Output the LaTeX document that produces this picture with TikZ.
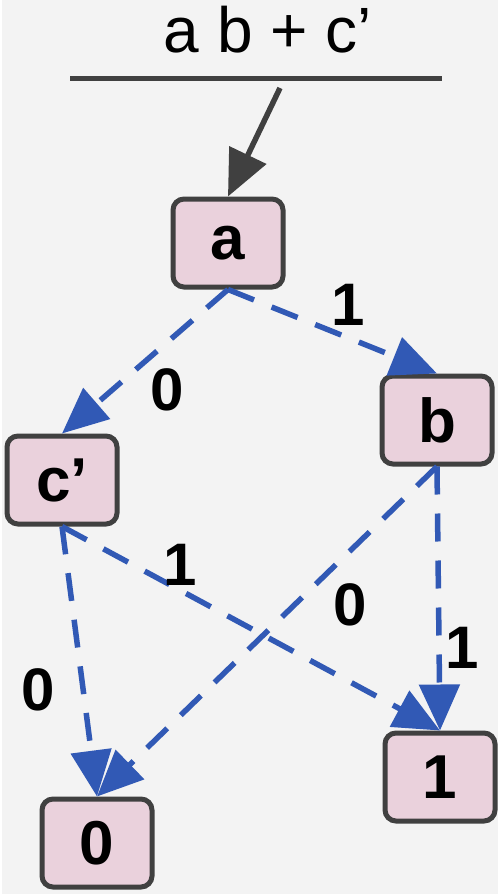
\documentclass[tikz,border=0pt]{standalone}
\usepackage{fontspec}
\setmainfont{Liberation Sans}
\usetikzlibrary{arrows.meta}
\definecolor{bg}{HTML}{F3F3F3}
\definecolor{boxfill}{HTML}{EAD1DC}
\definecolor{boxline}{HTML}{404040}
\definecolor{edgeblue}{HTML}{3159B5}
\tikzset{
  bddnode/.style={draw=boxline, line width=5pt, fill=boxfill, rounded corners=11pt,
    minimum width=110pt, minimum height=88pt, inner sep=0pt,
    font=\fontsize{62}{62}\selectfont\bfseries},
  edgelabel/.style={inner sep=0pt, font=\fontsize{60}{60}\selectfont\bfseries},
  bddedge/.style={draw=edgeblue, line width=5.5pt, dash pattern=on 28pt off 19pt,
    -{Triangle[length=46pt, width=40pt]}},
  rootarrow/.style={draw=boxline, line width=5.5pt, -{Triangle[length=46pt, width=40pt]}}
}
\begin{document}
\begin{tikzpicture}[x=1pt, y=-1pt]
  \fill[white] (0,0) rectangle (500,894);
  \fill[bg] (2,0) rectangle (498,894);
  \useasboundingbox (0,0) rectangle (500,894);

  % title
  \node[inner sep=0pt, anchor=base, font=\fontsize{64}{64}\selectfont] (title) at (268,52) {a b + c’};
  \draw[draw=boxline, line width=5pt] (70,78) -- (442,78);

  % nodes
  \node[bddnode] (a) at (228,243) {a};
  \node[bddnode] (b) at (437,420) {b};
  \node[bddnode] (c) at (62,480) {c’};
  \node[bddnode] (zero) at (97,843) {0};
  \node[bddnode] (one) at (440,777) {1};

  % root arrow
  \coordinate (rootstart) at (280,88);
  \draw[rootarrow] (rootstart) -- (a.north);

  % edges
  \draw[bddedge] (a.south) -- (c.north);
  \draw[bddedge] (a.south) -- (b.north);
  \draw[bddedge] (c.south) -- (zero.north);
  \draw[bddedge] (c.south) -- (one.north);
  \draw[bddedge] (b.south) -- (zero.north);
  \draw[bddedge] (b.south) -- (one.north);

  % edge labels
  \node[edgelabel] (lac) at (167,390) {0};
  \node[edgelabel] (lab) at (348,305) {1};
  \node[edgelabel] (lc1) at (180,565) {1};
  \node[edgelabel] (lc0) at (38,690) {0};
  \node[edgelabel] (lb0) at (350,605) {0};
  \node[edgelabel] (lb1) at (462,648) {1};
\end{tikzpicture}
\end{document}
